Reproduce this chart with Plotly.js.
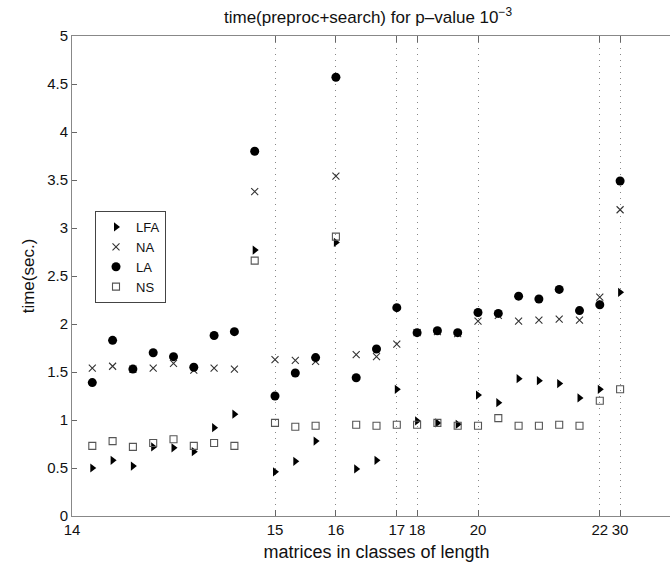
<!DOCTYPE html>
<html>
<head>
<meta charset="utf-8">
<script src="https://cdn.plot.ly/plotly-3.0.1.min.js"></script>
<style>
html,body{margin:0;padding:0;overflow:hidden;background:#fff;width:670px;height:567px;}
#chart{width:690px;height:567px;}
</style>
</head>
<body>
<div id="chart"></div>
<script>
// x positions (class slots) and their tick labels
const xPos = [1,2,3,4,5,6,7,8,9,10,11,12,13,14,15,16,17,18,19,20,21,22,23,24,25,26,27];
const tickPos = [0,10,13,16,17,20,26,27];
const tickLabels = ['14','15','16','17','18','20','22','30'];

const LFA = [0.50,0.58,0.52,0.72,0.71,0.67,0.92,1.06,2.77,0.46,0.57,0.78,2.85,0.49,0.58,1.32,0.99,0.97,0.955,1.26,1.18,1.43,1.41,1.38,1.23,1.32,2.33];
const NA  = [1.54,1.56,1.53,1.54,1.59,1.52,1.54,1.53,3.38,1.63,1.62,1.61,3.54,1.68,1.66,1.79,1.91,1.92,1.90,2.03,2.09,2.03,2.04,2.05,2.04,2.28,3.19];
const LA  = [1.39,1.83,1.53,1.70,1.66,1.55,1.88,1.92,3.80,1.25,1.49,1.65,4.57,1.44,1.74,2.17,1.91,1.93,1.91,2.12,2.11,2.29,2.26,2.36,2.14,2.20,3.49];
const NS  = [0.73,0.78,0.72,0.76,0.80,0.73,0.76,0.73,2.66,0.97,0.93,0.94,2.91,0.95,0.94,0.95,0.95,0.97,0.94,0.94,1.02,0.94,0.94,0.95,0.94,1.20,1.32];

const traces = [
  {x:xPos, y:LFA, name:'LFA', mode:'markers', type:'scatter',
   marker:{symbol:'triangle-right', size:8, color:'#000'}},
  {x:xPos, y:NA, name:'NA', mode:'markers', type:'scatter',
   marker:{symbol:'x-thin-open', size:7, color:'#333', line:{width:1.1, color:'#333'}}},
  {x:xPos, y:LA, name:'LA', mode:'markers', type:'scatter',
   marker:{symbol:'circle', size:9, color:'#000'}},
  {x:xPos, y:NS, name:'NS', mode:'markers', type:'scatter',
   marker:{symbol:'square-open', size:7, color:'#555', line:{width:1.1, color:'#555'}}}
];

const fam = '"Liberation Sans", Arial, sans-serif';

const layout = {
  width:690, height:567,
  margin:{l:72, r:9, t:36, b:51},
  paper_bgcolor:'#fff', plot_bgcolor:'#fff',
  font:{family:fam, color:'#111', size:15},
  showlegend:true,
  title:{text:'time(preproc+search) for p\u2013value 10<sup>\u22123</sup>',
         x:368/690, xref:'container', xanchor:'center', y:1-17/567, yref:'container', yanchor:'middle',
         font:{family:fam, size:17, color:'#111'}},
  xaxis:{
    range:[0,30], tickmode:'array', tickvals:tickPos, ticktext:tickLabels,
    ticks:'inside', ticklen:6, tickcolor:'#666', tickwidth:1,
    showline:true, linecolor:'#888', linewidth:1, mirror:'ticks',
    showgrid:true, gridcolor:'#888', griddash:'1px,5px', gridwidth:1,
    zeroline:false, tickfont:{size:15},
    title:{text:'matrices in classes of length', standoff:8, font:{size:18}}
  },
  yaxis:{
    range:[0,5], tickmode:'array', tickvals:[0,0.5,1,1.5,2,2.5,3,3.5,4,4.5,5],
    ticktext:['0','0.5','1','1.5','2','2.5','3','3.5','4','4.5','5'],
    ticks:'inside', ticklen:5, tickcolor:'#666',
    showline:true, linecolor:'#888', linewidth:1, mirror:'ticks',
    showgrid:false, zeroline:false, tickfont:{size:15},
    title:{text:'time(sec.)', standoff:8, font:{size:17}}
  },
  legend:{
    x:(95-72)/609, xanchor:'left', y:1-(211-36)/480, yanchor:'top',
    bgcolor:'#fff', bordercolor:'#444', borderwidth:1,
    font:{size:13, family:fam, color:'#111'},
    tracegroupgap:0, itemwidth:30
  }
};

Plotly.newPlot('chart', traces, layout, {displayModeBar:false, staticPlot:true});
</script>
</body>
</html>
